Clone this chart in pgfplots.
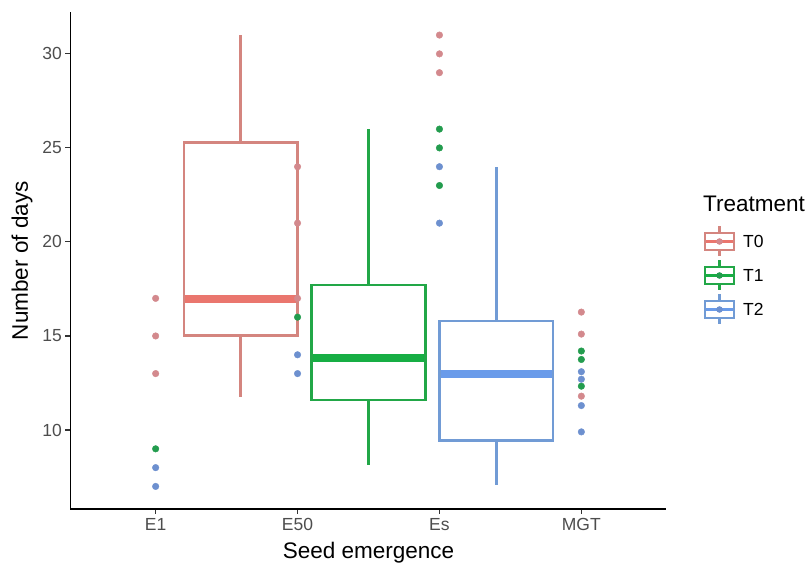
\documentclass[border=0pt]{standalone}
\usepackage{fontspec}
\setmainfont{Liberation Sans}
\usepackage{pgfplots}
\pgfplotsset{compat=1.18}
\definecolor{t0line}{HTML}{D4857F}
\definecolor{t0med}{HTML}{EA766E}
\definecolor{t0pt}{HTML}{D3898D}
\definecolor{t1line}{HTML}{22A747}
\definecolor{t1med}{HTML}{17AE44}
\definecolor{t1pt}{HTML}{239C4E}
\definecolor{t2line}{HTML}{719BD5}
\definecolor{t2med}{HTML}{6A9BEA}
\definecolor{t2pt}{HTML}{6D90CF}
\definecolor{labgray}{HTML}{4D4D4D}
\definecolor{tickgray}{HTML}{333333}
\begin{document}
\begin{tikzpicture}
\path[use as bounding box] (-70.5pt,-56pt) rectangle (736.5pt,509pt);
\begin{axis}[
  at={(0,0)}, anchor=south west,
  scale only axis, width=596pt, height=496.5pt,
  xmin=0.4, xmax=4.6, ymin=5.8, ymax=32.2,
  axis x line*=bottom, axis y line*=left,
  axis line style={line width=1.2pt, black, -},
  xtick={1,2,3,4}, xticklabels={E1,E50,Es,MGT},
  ytick={10,15,20,25,30},
  tick style={line width=1.1pt, color=tickgray},
  tick align=outside, major tick length=5pt,
  ticklabel style={font=\fontsize{17.5}{21}\selectfont, text=labgray},
  xticklabel style={yshift=-1pt},
  /pgf/number format/assume math mode=true,
  xlabel={Seed emergence}, ylabel={Number of days},
  label style={font=\fontsize{22.5}{27}\selectfont, text=black},
  xlabel style={at={(axis description cs:0.5,0)}, anchor=center, yshift=-43.5pt},
  ylabel style={at={(axis description cs:0,0.5)}, anchor=center, rotate=0, yshift=48.5pt},
  clip=false,
]
% T0 box
\addplot[t0line, line width=2.6pt] coordinates {(1.6,25.3)(1.6,31)};
\addplot[t0line, line width=2.6pt] coordinates {(1.6,15.03)(1.6,11.77)};
\addplot[t0med, line width=8pt] coordinates {(1.2,16.95)(2.0,16.95)};
\addplot[t0line, line width=2.6pt] coordinates {(1.2,15.03)(2.0,15.03)(2.0,25.3)(1.2,25.3)} -- cycle;
% T1 box
\addplot[t1line, line width=2.6pt] coordinates {(2.5,17.7)(2.5,26)};
\addplot[t1line, line width=2.6pt] coordinates {(2.5,11.6)(2.5,8.15)};
\addplot[t1med, line width=8pt] coordinates {(2.1,13.85)(2.9,13.85)};
\addplot[t1line, line width=2.6pt] coordinates {(2.1,11.6)(2.9,11.6)(2.9,17.7)(2.1,17.7)} -- cycle;
% T2 box
\addplot[t2line, line width=2.6pt] coordinates {(3.4,15.8)(3.4,24)};
\addplot[t2line, line width=2.6pt] coordinates {(3.4,9.45)(3.4,7.05)};
\addplot[t2med, line width=8pt] coordinates {(3.0,13.0)(3.8,13.0)};
\addplot[t2line, line width=2.6pt] coordinates {(3.0,9.45)(3.8,9.45)(3.8,15.8)(3.0,15.8)} -- cycle;
% points
\addplot[only marks, mark=*, mark size=3.3pt, mark options={draw=t0pt, fill=t0pt}]
  coordinates {(1,17)(1,15)(1,13)(2,24)(2,21)(2,17)(3,31)(3,30)(3,29)(4,16.27)(4,15.1)(4,11.8)};
\addplot[only marks, mark=*, mark size=3.3pt, mark options={draw=t1pt, fill=t1pt}]
  coordinates {(1,9)(2,16)(3,26)(3,25)(3,23)(4,14.2)(4,13.75)(4,12.33)};
\addplot[only marks, mark=*, mark size=3.3pt, mark options={draw=t2pt, fill=t2pt}]
  coordinates {(1,8)(1,7)(2,14)(2,13)(3,24)(3,21)(4,13.1)(4,12.7)(4,11.3)(4,9.9)};
\end{axis}
% legend
\node[anchor=base west, font=\fontsize{22.5}{27}\selectfont, inner sep=0pt] at (632.5pt,297.5pt) {Treatment};
\foreach \y/\cl/\cm/\cp/\lab in {267.5/t0line/t0med/t0pt/T0, 233.5/t1line/t1med/t1pt/T1, 199.5/t2line/t2med/t2pt/T2}{
  \draw[\cl, line width=2.4pt] (649pt,\y pt+8.5pt) -- (649pt,\y pt+15pt);
  \draw[\cl, line width=2.4pt] (649pt,\y pt-8.5pt) -- (649pt,\y pt-15pt);
  \draw[\cl, line width=2.4pt] (634.5pt,\y pt-8.5pt) rectangle (663.5pt,\y pt+8.5pt);
  \draw[\cm, line width=3pt] (635.5pt,\y pt) -- (662.5pt,\y pt);
  \fill[\cp] (649pt,\y pt) circle (3.3pt);
  \node[anchor=west, font=\fontsize{17.5}{21}\selectfont, inner sep=0pt] at (672.5pt,\y pt) {\lab};
}
\end{tikzpicture}
\end{document}
